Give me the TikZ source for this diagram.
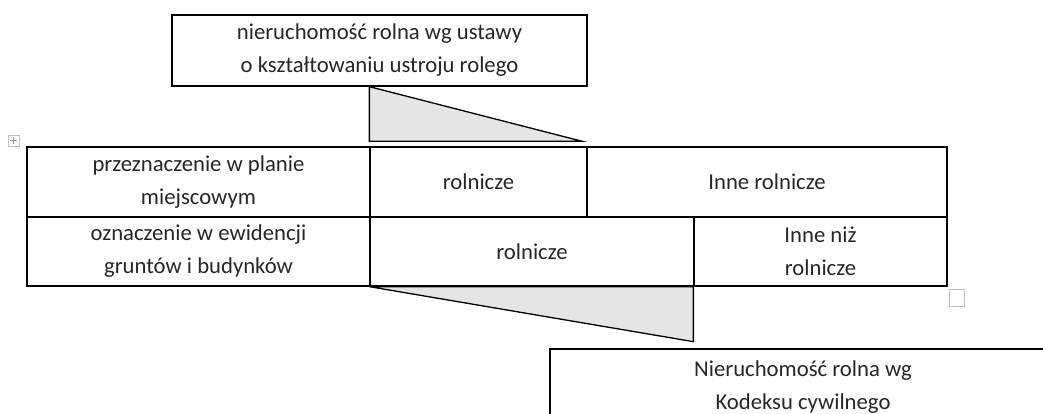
\documentclass[tikz,border=0pt]{standalone}
\usepackage{fontspec}
\setmainfont{Carlito}
\begin{document}
\begin{tikzpicture}[x=1pt,y=-1pt,
  cell/.style={draw, line width=1.3pt, inner sep=0pt, align=center,
    font=\fontsize{22.7}{33}\selectfont, text=black!85},
  wedge/.style={draw, line width=1.3pt, fill=black!10, line join=miter},
  handle/.style={draw=black!25, line width=0.8pt}]
\useasboundingbox (0,0) rectangle (1043,414);
\clip (0,0) rectangle (1043,414);
% top box
\node[cell, minimum width=415pt, minimum height=71pt] (top) at (379.5,50.5)
  {nieruchomość rolna wg ustawy\\o kształtowaniu ustroju rolego};
% table row 1
\node[cell, minimum width=343pt, minimum height=70pt] (r1a) at (198.5,182)
  {przeznaczenie w planie\\miejscowym};
\node[cell, minimum width=217pt, minimum height=70pt] (r1b) at (478.5,182) {rolnicze};
\node[cell, minimum width=360pt, minimum height=70pt] (r1c) at (767,182) {Inne rolnicze};
% table row 2
\node[cell, minimum width=343pt, minimum height=69pt] (r2a) at (198.5,251.5)
  {oznaczenie w ewidencji\\gruntów i budynków};
\node[cell, minimum width=324pt, minimum height=69pt] (r2b) at (532,251.5) {rolnicze};
\node[cell, minimum width=253pt, minimum height=69pt] (r2c) at (820.5,251.5) {Inne niż\\rolnicze};
% bottom box
\node[cell, minimum width=506pt, minimum height=76pt] (bot) at (803,387)
  {Nieruchomość rolna wg\\Kodeksu cywilnego};
% wedges
\coordinate (t1) at (top.south -| r1b.west);
\coordinate (t2) at ([yshift=5pt]r1b.north west);
\coordinate (t3) at ([xshift=213pt]t2);
\draw[wedge] (t1) -- (t2) -- (t3) -- cycle;
\coordinate (b1) at (r2b.south west);
\coordinate (b2) at (r2c.south west);
\coordinate (b3) at ([yshift=-55pt]b2);
\draw[wedge] (b1) -- (b2) -- (b3) -- cycle;
% word artifacts
\node[handle, minimum size=11pt, inner sep=0pt] (mv) at (13.5,140.5) {};
\draw[black!40, line width=0.5pt] ([yshift=-3.5pt]mv.center) -- ([yshift=3.5pt]mv.center)
  ([xshift=-3.5pt]mv.center) -- ([xshift=3.5pt]mv.center);
\node[handle, minimum width=15pt, minimum height=17pt, inner sep=0pt] (rs) at (956.5,297.5) {};
\end{tikzpicture}
\end{document}
